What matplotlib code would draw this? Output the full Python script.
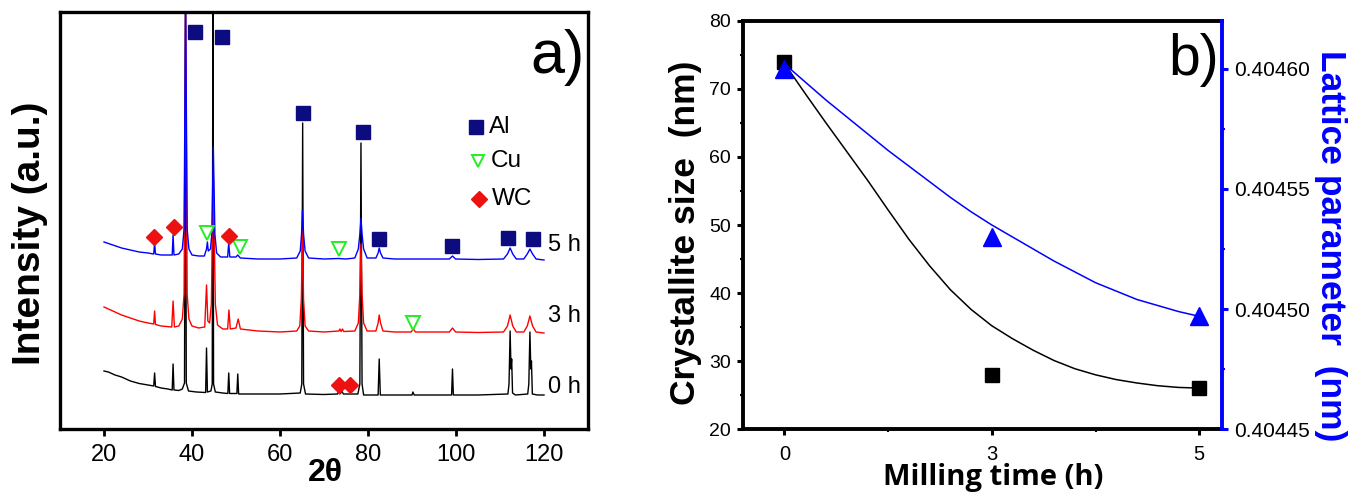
import numpy as np
import matplotlib
matplotlib.use('Agg')
import matplotlib.pyplot as plt
from matplotlib.ticker import MultipleLocator, FormatStrFormatter

plt.rcParams['font.family'] = ['Liberation Sans', 'DejaVu Sans']

# ---- panel a: XRD patterns (2theta, intensity in arbitrary units) ----
tt_0h = [20.0, 21.0, 22.5, 24.0, 26.0, 28.0, 30.0, 31.3, 31.5, 31.7, 33.0, 34.5, 35.5, 35.7, 35.9,
         37.0, 37.8, 38.3, 38.5, 38.7, 39.2, 41.0, 43.1, 43.3, 43.5, 44.3, 44.6, 44.75, 44.9, 45.3,
         47.0, 48.15, 48.35, 48.55, 50.2, 50.4, 50.6, 55.0, 60.0, 64.6, 64.95, 65.15, 65.35, 65.8,
         70.0, 73.1, 73.3, 73.6, 74.1, 74.4, 77.7, 78.15, 78.4, 78.65, 79.0, 82.3, 82.55, 82.8,
         86.0, 90.0, 90.2, 90.5, 95.0, 99.0, 99.2, 99.4, 105.0, 111.8, 112.05, 112.3, 112.5,
         112.65, 112.85, 113.5, 116.3, 116.55, 116.8, 117.0, 117.15, 117.35, 118.5, 120.0]
int_0h = [58, 57, 54, 52, 48, 45.5, 44, 43, 56, 42.5, 41, 40, 39, 65, 39,
          38.5, 40, 46, 430, 46, 38, 37, 36.5, 81, 37, 38, 45, 430, 45, 37,
          36, 35.5, 56, 35.5, 35.5, 55, 35, 35, 35, 36, 45, 306, 45, 35,
          34.5, 35, 38, 35, 37.5, 35, 35, 45, 286, 45, 34, 34, 70, 34,
          34, 34, 37, 34, 34, 34, 60, 34, 34, 35, 45, 98, 60,
          70, 36, 34, 35, 45, 97, 60, 68, 35, 34, 34]

tt_3h = [20.0, 22.0, 24.0, 26.0, 28.0, 30.0, 31.3, 31.5, 31.7, 33.0, 35.4, 35.7, 36.0, 37.0, 37.8,
         38.2, 38.55, 38.9, 39.3, 40.0, 41.5, 42.9, 43.3, 43.6, 44.0, 44.4, 44.85, 45.3, 45.8,
         47.0, 48.1, 48.4, 48.7, 50.0, 50.5, 51.0, 55.0, 60.0, 63.8, 64.5, 64.85, 65.1, 65.35,
         65.7, 66.5, 70.0, 73.4, 73.6, 73.9, 74.2, 74.5, 77.0, 77.8, 78.15, 78.4, 78.65, 79.0,
         79.8, 81.8, 82.3, 82.55, 82.85, 83.4, 86.0, 89.8, 90.3, 90.8, 98.5, 99.2, 99.9, 105.0,
         110.8, 111.7, 112.3, 112.9, 113.7, 115.4, 116.2, 116.8, 117.4, 118.2, 120.0]
int_3h = [122, 118, 114, 111, 108, 106, 105, 118, 104.5, 103, 102, 128, 102, 103, 110,
          135, 430, 135, 110, 103, 101, 102, 144, 108, 106, 125, 255, 125, 104,
          100, 100, 119, 100, 101, 110, 100, 98, 97, 98, 103, 130, 200, 130,
          103, 98, 97, 98, 100, 97.5, 100, 97.5, 98, 106, 135, 185, 135, 106,
          98, 98, 106, 114, 106, 98, 97, 97, 100, 97, 97, 101, 97, 96.5,
          97, 103, 114, 103, 97, 97, 103, 113, 103, 97, 96]

tt_5h = [20.0, 22.0, 24.0, 26.0, 28.0, 30.0, 31.3, 31.5, 31.7, 33.0, 35.5, 35.7, 35.9, 37.0, 37.8,
         38.2, 38.55, 38.9, 39.3, 40.0, 41.5, 42.8, 43.3, 43.5, 43.7, 44.2, 44.5, 44.85, 45.2,
         45.6, 46.5, 48.1, 48.35, 48.6, 50.0, 50.4, 51.0, 55.0, 60.0, 63.8, 64.6, 64.9, 65.1,
         65.35, 65.7, 66.5, 70.0, 73.3, 75.0, 77.0, 77.8, 78.15, 78.4, 78.65, 79.0, 79.8, 81.8,
         82.3, 82.55, 82.85, 83.4, 86.0, 98.5, 99.2, 99.9, 105.0, 110.8, 111.7, 112.3, 112.9,
         113.7, 115.4, 116.2, 116.8, 117.4, 118.2, 120.0]
int_5h = [187, 184, 181, 179, 177, 176, 175, 186, 175, 174, 174, 194, 174, 175, 180,
          200, 430, 200, 180, 174, 173, 173, 180, 187, 178, 180, 195, 282, 195,
          176, 172, 172, 186, 172, 172, 174, 171, 170, 170, 171, 178, 195, 219,
          195, 178, 171, 170, 170.5, 170, 171, 180, 195, 211, 195, 180, 171, 171,
          176, 181, 176, 171, 170, 170, 173, 170, 169.5, 170, 175, 181, 175,
          170, 170, 175, 180, 175, 170, 169]

# phase markers
al_tt = [40.7, 46.9, 65.3, 78.75, 82.6, 99.0, 111.9, 117.4]
al_int = [397, 392, 316, 297, 190, 183, 191, 190]
cu_tt = [43.5, 50.9, 73.3, 90.3]
cu_int = [196, 182, 180, 106]
wc_tt = [31.4, 35.9, 48.4, 73.4, 75.8]
wc_int = [192, 202, 193, 44, 44]

key_tt = [104.5, 104.9, 105.2]
key_int = [302, 268, 230]
key_names = ['Al', 'Cu', 'WC']
sample_names = ['5 h', '3 h', '0 h']
sample_int = [184, 113, 42]

# ---- panel b ----
milling_time = ['0', '3', '5']
crystallite = [74, 28, 26]
lattice = [0.40460, 0.40453, 0.404497]
# smooth fit curves (x in category index)
fit_size_x = [0.0, 0.1, 0.2, 0.3, 0.4, 0.5, 0.6, 0.7, 0.8, 0.9, 1.0,
              1.1, 1.2, 1.3, 1.4, 1.5, 1.6, 1.7, 1.8, 1.9, 2.0]
fit_size_y = [73.7, 69.3, 65.0, 60.8, 56.6, 52.2, 47.9, 44.0, 40.5, 37.6, 35.2,
              33.3, 31.6, 30.1, 28.9, 28.0, 27.3, 26.8, 26.4, 26.15, 26.05]
fit_lat_x = [0.0, 0.1, 0.2, 0.3, 0.4, 0.5, 0.6, 0.7, 0.8, 0.9, 1.0,
             1.1, 1.2, 1.3, 1.4, 1.5, 1.6, 1.7, 1.8, 1.9, 2.0]
fit_lat_y = [0.404602, 0.4045945, 0.404587, 0.404580, 0.404573, 0.404566, 0.4045595,
             0.404553, 0.4045465, 0.4045405, 0.404535, 0.404530, 0.404525, 0.404520,
             0.4045155, 0.404511, 0.4045075, 0.404504, 0.4045015, 0.404499, 0.404497]

W, H = 1362, 495
fig = plt.figure(figsize=(W / 100, H / 100), dpi=100)

def fx(x):
    return x / W

def fy(y):
    return 1 - y / H

# ---------------- panel a ----------------
ax1 = fig.add_axes([fx(60), fy(429), 528 / W, 417 / H])
ax1.plot(tt_0h, int_0h, color='black', lw=1.0)
ax1.plot(tt_3h, int_3h, color='red', lw=1.0)
ax1.plot(tt_5h, int_5h, color='blue', lw=1.0)
ax1.plot(al_tt, al_int, 's', color='#0c0c80', ms=9.5, ls='none')
ax1.plot(cu_tt, cu_int, 'v', mfc='white', mec='#22ee22', mew=1.4, ms=10, ls='none')
ax1.plot(wc_tt, wc_int, 'D', color='#ee1111', ms=8, ls='none')
ax1.plot(key_tt[0], key_int[0], 's', color='#0c0c80', ms=10)
ax1.plot(key_tt[1], key_int[1], 'v', mfc='white', mec='#22ee22', mew=1.4, ms=9)
ax1.plot(key_tt[2], key_int[2], 'D', color='#ee1111', ms=8)
for i in range(3):
    ax1.text(key_tt[i] + 2.9, key_int[i], key_names[i], fontsize=17.5, va='center', ha='left')
    ax1.text(121, sample_int[i], sample_names[i], fontsize=17, va='center', ha='left')
ax1.set_xlim(10, 130)
ax1.set_ylim(0, 417)
ax1.set_xticks([20, 40, 60, 80, 100, 120])
ax1.tick_params(axis='x', direction='out', length=4.8, width=2.0, labelsize=17, pad=6)
ax1.tick_params(axis='y', left=False, labelleft=False)
for s in ax1.spines.values():
    s.set_linewidth(2.4)
fig.text(fx(585), fy(57), 'a)', fontsize=44, ha='right', va='center')
fig.text(fx(325), fy(473), '2\u03b8', fontsize=23, fontweight='bold', ha='center', va='center')
fig.text(fx(30), fy(233), 'Intensity (a.u.)', fontsize=28, fontweight='bold',
         rotation=90, ha='center', va='center')

# ---------------- panel b ----------------
ax2 = fig.add_axes([fx(743), fy(429.3), 479 / W, 408.6 / H])
x = np.arange(len(milling_time))
ax2.plot(fit_size_x, fit_size_y, color='black', lw=1.1)
ax2.plot(x, crystallite, 's', color='black', ms=9.5)
ax2.set_xlim(-0.2, 2.11)
ax2.set_ylim(20, 80)
ax2.set_xticks(x)
ax2.set_xticklabels(milling_time)
ax2.xaxis.set_minor_locator(MultipleLocator(0.5))
ax2.yaxis.set_major_locator(MultipleLocator(10))
ax2.yaxis.set_minor_locator(MultipleLocator(5))
ax2.tick_params(which='major', direction='out', length=4.5, width=2.2, labelsize=14, pad=4)
ax2.tick_params(axis='x', which='major', pad=7, labelsize=14.5)
ax2.tick_params(which='minor', direction='out', length=2.5, width=1.5)
for s in ax2.spines.values():
    s.set_linewidth(2.8)
ax2.spines['right'].set_visible(False)

ax3 = ax2.twinx()
ax3.plot(fit_lat_x, fit_lat_y, color='blue', lw=1.1)
ax3.plot(x, lattice, '^', color='blue', ms=13)
ax3.set_ylim(0.40445, 0.404620)
ax3.yaxis.set_major_locator(MultipleLocator(0.00005))
ax3.yaxis.set_minor_locator(MultipleLocator(0.000025))
ax3.yaxis.set_major_formatter(FormatStrFormatter('%.5f'))
ax3.tick_params(axis='y', which='major', color='blue', labelcolor='black', direction='out',
                length=4.5, width=2.2, labelsize=15, pad=4)
ax3.tick_params(axis='y', which='minor', color='blue', direction='out', length=2.5, width=1.5)
for k in ['left', 'top', 'bottom']:
    ax3.spines[k].set_visible(False)
ax3.spines['right'].set_color('blue')
ax3.spines['right'].set_linewidth(2.8)

fig.text(fx(1219), fy(60), 'b)', fontsize=41, ha='right', va='center')
fig.text(fx(993), fy(478), 'Milling time (h)', fontsize=21, fontweight='bold',
         family=['Open Sans', 'DejaVu Sans'], ha='center', va='center')
fig.text(fx(685), fy(233), 'Crystallite size  (nm)', fontsize=25.5, fontweight='bold',
         rotation=90, ha='center', va='center')
fig.text(fx(1331), fy(246), 'Lattice parameter  (nm)', fontsize=25.5, fontweight='bold',
         color='blue', rotation=270, ha='center', va='center')

fig.savefig('out.png', dpi=100)
